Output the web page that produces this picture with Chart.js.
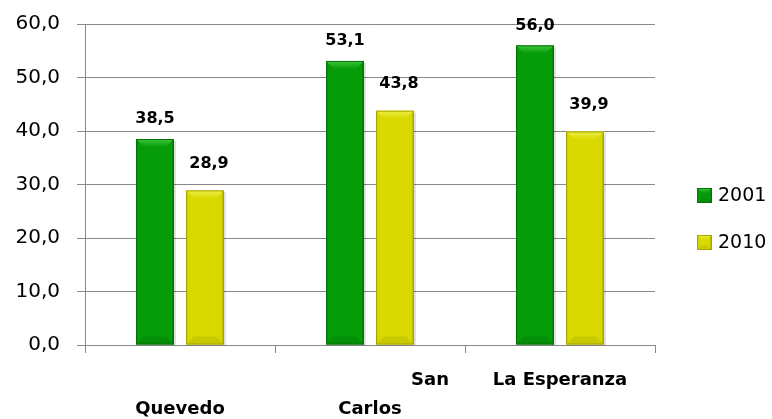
<!DOCTYPE html>
<html>
<head>
<meta charset="utf-8">
<script src="https://cdn.jsdelivr.net/npm/chart.js@4.4.0/dist/chart.umd.min.js"></script>
<style>
  html, body { margin: 0; padding: 0; background: #fff; }
  #contenedor { width: 772px; height: 419px; }
</style>
</head>
<body>
<div id="contenedor"><canvas id="grafico"></canvas></div>
<script>
const ciudades = ['Quevedo', 'San Carlos', 'La Esperanza'];
// how the category names are broken over two lines
const lineasCiudad = [['', 'Quevedo'], ['San', 'Carlos'], ['La Esperanza', '']];
const anios = ['2001', '2010'];
const valores2001 = [38.5, 53.1, 56.0];
const valores2010 = [28.9, 43.8, 39.9];
const ejeMin = 0;
const ejeMax = 60;
const ejePaso = 10;

const fuente = 'DejaVu Sans';
const colores = {
    '2001': { cuerpo: '#069b08', claro: '#3fc63f', oscuro: '#047206' },
    '2010': { cuerpo: '#d9d900', claro: '#eeee48', oscuro: '#a6a600' }
};

const formato = v => v.toFixed(1).replace('.', ',');

// bevel look of the Excel bars
function biselar(ctx, l, t, r, b, col, d) {
    d = Math.min(d, (b - t) / 2);
    ctx.save();
    const g = ctx.createLinearGradient(0, t, 0, t + d);
    g.addColorStop(0, col.claro);
    g.addColorStop(1, col.cuerpo);
    ctx.fillStyle = g;
    ctx.beginPath();
    ctx.moveTo(l, t); ctx.lineTo(r, t); ctx.lineTo(r - d, t + d); ctx.lineTo(l + d, t + d);
    ctx.closePath(); ctx.fill();
    ctx.globalAlpha = 0.3;
    ctx.fillStyle = col.oscuro;
    ctx.beginPath();
    ctx.moveTo(l, b); ctx.lineTo(r, b); ctx.lineTo(r - d, b - d); ctx.lineTo(l + d, b - d);
    ctx.closePath(); ctx.fill();
    ctx.globalAlpha = 0.5;
    ctx.fillRect(r - 2, t + 1, 2, b - t - 1);
    ctx.globalAlpha = 0.2;
    ctx.fillRect(l, t + 1, 2, b - t - 1);
    ctx.globalAlpha = 1;
    ctx.strokeStyle = col.oscuro;
    ctx.lineWidth = 1;
    ctx.strokeRect(l + 0.5, t + 0.5, r - l - 1, b - t - 1);
    ctx.restore();
}

const pluginBarras = {
    id: 'barras',
    beforeDatasetsDraw(chart) {
        const ctx = chart.ctx;
        ctx.save();
        ctx.fillStyle = 'rgba(0,0,0,0.12)';
        chart.data.datasets.forEach((ds, i) => {
            chart.getDatasetMeta(i).data.forEach(bar => {
                const l = bar.x - bar.width / 2;
                ctx.fillRect(l + 2, bar.y + 2, bar.width, bar.base - bar.y - 1);
            });
        });
        ctx.restore();
    },
    afterDatasetsDraw(chart) {
        const ctx = chart.ctx;
        chart.data.datasets.forEach((ds, i) => {
            const col = colores[ds.label];
            chart.getDatasetMeta(i).data.forEach((bar, j) => {
                const l = bar.x - bar.width / 2;
                biselar(ctx, l, bar.y, l + bar.width, bar.base, col, 8);
                // value label
                ctx.save();
                ctx.font = 'bold 16px ' + fuente;
                ctx.fillStyle = '#000';
                ctx.textAlign = 'center';
                ctx.textBaseline = 'middle';
                const dx = i === 0 ? 0 : 4;
                const dy = i === 0 ? 20 : 27;
                ctx.fillText(formato(ds.data[j]), bar.x + dx, bar.y - dy);
                ctx.restore();
            });
        });
    },
    afterDraw(chart) {
        const ctx = chart.ctx;
        const x = chart.scales.x;
        const fondo = chart.chartArea.bottom;
        ctx.save();
        ctx.font = 'bold 18px ' + fuente;
        ctx.fillStyle = '#000';
        ctx.textAlign = 'center';
        ctx.textBaseline = 'middle';
        lineasCiudad.forEach((lineas, i) => {
            const cx = x.getPixelForValue(i);
            lineas.forEach((txt, k) => {
                if (!txt) return;
                const corr = (i === 1 && k === 0) ? 60 : 0;
                ctx.fillText(txt, cx + corr, fondo + 35 + k * 29);
            });
        });
        // legend
        ctx.font = '19px ' + fuente;
        ctx.textAlign = 'left';
        chart.data.datasets.forEach((ds, i) => {
            const yc = 196 + i * 47;
            const col = colores[ds.label];
            ctx.fillStyle = col.cuerpo;
            ctx.fillRect(697, yc - 8, 15, 15);
            biselar(ctx, 697, yc - 8, 712, yc + 7, col, 5);
            ctx.fillStyle = '#000';
            ctx.fillText(ds.label, 718, yc);
        });
        ctx.restore();
    }
};

new Chart(document.getElementById('grafico'), {
    type: 'bar',
    data: {
        labels: ciudades,
        datasets: [
            { label: anios[0], data: valores2001, backgroundColor: colores['2001'].cuerpo },
            { label: anios[1], data: valores2010, backgroundColor: colores['2010'].cuerpo }
        ]
    },
    options: {
        responsive: true,
        maintainAspectRatio: false,
        animation: false,
        categoryPercentage: 0.526,
        barPercentage: 0.76,
        layout: { padding: { left: 13, right: 117, top: 24, bottom: 66 } },
        plugins: {
            legend: { display: false },
            tooltip: { enabled: false }
        },
        scales: {
            x: {
                grid: { drawOnChartArea: false, color: '#888', tickLength: 8, offset: true },
                border: { color: '#888' },
                ticks: { display: false }
            },
            y: {
                min: ejeMin,
                max: ejeMax,
                afterFit: s => { s.width = 72; s.paddingTop = 0; s.paddingBottom = 0; },
                grid: { color: '#888', tickLength: 8 },
                border: { color: '#888' },
                ticks: {
                    stepSize: ejePaso,
                    padding: 17,
                    color: '#000',
                    font: { family: fuente, size: 20 },
                    callback: v => formato(v)
                }
            }
        }
    },
    plugins: [pluginBarras]
});
</script>
</body>
</html>
